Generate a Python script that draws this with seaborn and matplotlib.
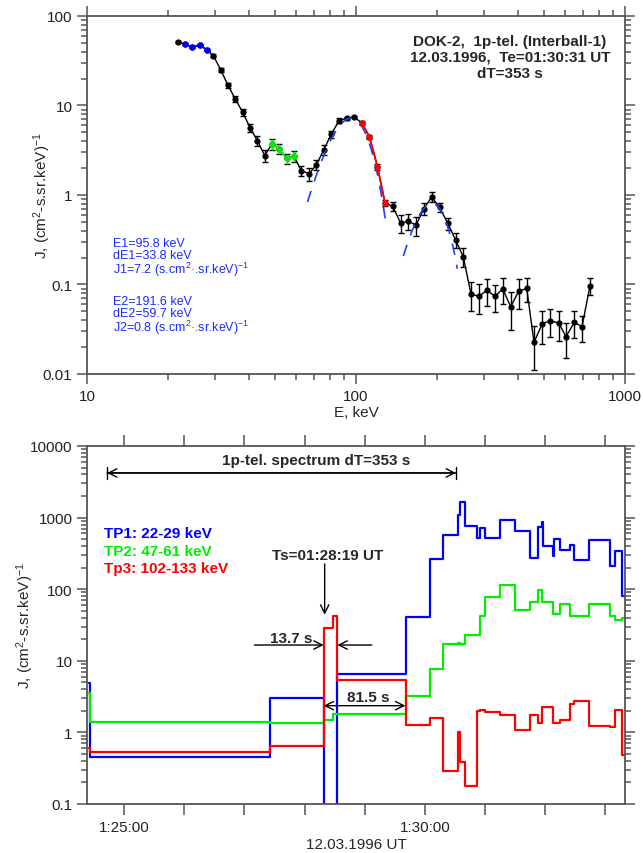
import numpy as np
import matplotlib
matplotlib.use('Agg')
import matplotlib.pyplot as plt
from matplotlib import font_manager
from matplotlib.ticker import LogLocator, MultipleLocator, FuncFormatter, NullFormatter, NullLocator
import seaborn as sns

# --- energy spectrum, DOK-2 1p-telescope ---
energy = [21.7, 23.1, 24.6, 26.2, 27.9, 29.5, 31.4, 33.4, 35.6, 37.9, 40.4, 43.0, 45.8,
          48.7, 51.9, 55.3, 58.8, 62.6, 66.9, 71.2, 75.9, 80.9, 86.5, 92.4, 98.3,
          105.3, 112.2, 120.2, 128.2, 136.9, 146.6, 156.7, 167.1, 178.9, 191.1, 204.4,
          219.3, 234.8, 250.5, 267.6, 285.8, 306.9, 328.7, 351.1, 376.0, 402.6, 431.1,
          458.9, 492.7, 527.7, 567.0, 603.6, 647.9, 692.1, 741.3]
flux = [51.6, 48.7, 44.7, 47.4, 42.0, 36.0, 25.1, 16.9, 11.8, 8.39, 5.65, 4.04, 2.75,
        3.74, 3.27, 2.57, 2.71, 1.87, 1.73, 2.16, 3.21, 4.77, 6.77, 7.19, 7.44,
        6.37, 4.47, 2.07, 0.814, 0.744, 0.484, 0.512, 0.459, 0.703, 0.950, 0.729,
        0.483, 0.313, 0.204, 0.0783, 0.0738, 0.0861, 0.0738, 0.0891, 0.0565, 0.0839,
        0.0906, 0.0226, 0.0365, 0.0394, 0.0371, 0.0261, 0.0378, 0.0338, 0.0970]
rel_err = [0.03, 0.03, 0.03, 0.03, 0.03, 0.04, 0.05, 0.06, 0.08, 0.10, 0.10, 0.12, 0.15,
           0.14, 0.13, 0.13, 0.13, 0.13, 0.17, 0.13, 0.12, 0.10, 0.06, 0.04, 0.03,
           0.04, 0.06, 0.08, 0.08, 0.11, 0.23, 0.21, 0.24, 0.15, 0.13, 0.12,
           0.16, 0.19, 0.24, 0.36, 0.37, 0.34, 0.34, 0.32, 0.45, 0.37,
           0.29, 0.51, 0.40, 0.35, 0.37, 0.42, 0.33, 0.33, 0.21]

# channels of the time profiles
band_names = ['TP1', 'TP2', 'Tp3']
band_lo = [22, 47, 102]
band_hi = [29, 61, 133]
band_colors = ['#0000ff', '#00ee00', '#ff0000']

# gaussian fits of the two peaks
peak_E = [95.8, 191.6]
peak_dE = [33.8, 59.7]
peak_J = [7.2, 0.8]
fit_lo = [66, 150]
fit_hi = [129, 238]

# --- time profiles, seconds after 01:25:00 (bin edges) ---
t_edges = [-35, -34, 145, 199, 208.5, 212.7, 281, 305, 318.5, 333, 335, 339.5, 352,
           354.5, 360, 374.5, 390, 405, 413, 416.5, 418, 427.5, 429, 435, 444.5,
           448.5, 463.5, 485, 490, 497, 500]
tp1 = [4.9, 0.45, 2.99, 0.05, 0.05, 6.55, 40.5, 264, 571, 1087, 1636, 755, 514, 708,
       520, 925, 650, 270, 731, 859, 405, 291, 503, 357, 414, 258, 487, 213, 345, 80]
tp2 = [3.6, 1.41, 1.37, 1.50, 1.81, 1.81, 3.19, 7.67, 17.0, 17.6, 17.0, 23.2, 23.2,
       42.7, 77.1, 114.6, 51.8, 65.6, 98.5, 65.6, 65.6, 45.1, 45.1, 62.7, 41.9, 41.9,
       62.7, 42.7, 37.5, 39.0]
tp3 = [0.60, 0.53, 0.64, 29.0, 42.7, 5.44, 1.27, 1.57, 0.29, 1.02, 0.39, 0.18, 2.01,
       2.08, 1.91, 1.77, 1.09, 1.77, 1.35, 2.24, 2.24, 1.35, 1.35, 1.50, 2.50, 2.72,
       1.24, 1.18, 2.07, 0.49]

Ts = 199          # 01:28:19
Te = 331          # 01:30:31
spec_start = -17

sns.set_style('ticks')
names = {f.name for f in font_manager.fontManager.ttflist}
font = 'Liberation Sans' if 'Liberation Sans' in names else 'DejaVu Sans'
plt.rcParams['font.family'] = [font, 'DejaVu Sans']
plt.rcParams['mathtext.fontset'] = 'custom'
plt.rcParams['mathtext.rm'] = font
plt.rcParams['mathtext.it'] = font + ':italic'
plt.rcParams['mathtext.bf'] = font + ':bold'

fig = plt.figure(figsize=(6.43, 8.54), dpi=100)
ax1 = fig.add_axes([0.1353, 0.5609, 0.8367, 0.4192])
ax2 = fig.add_axes([0.1353, 0.0574, 0.8367, 0.4192])

grey = '#555555'
logfmt = FuncFormatter(lambda v, p: f'{v:g}')


def style(ax):
    for s in ax.spines.values():
        s.set_color(grey)
        s.set_linewidth(1.3)
    ax.tick_params(which='both', direction='out', top=True, right=True, color=grey,
                   width=1.1, labelsize=11, labelcolor='#222222')
    ax.tick_params(which='major', length=7)
    ax.tick_params(which='minor', length=4)


# ---------------- spectrum ----------------
energy_a = np.array(energy)
flux_a = np.array(flux)
sigma = flux_a * np.array(rel_err)

sns.lineplot(x=energy, y=flux, color='black', lw=1, marker='o', markersize=4.5,
             markeredgewidth=0, estimator=None, sort=False, legend=False, ax=ax1)
ax1.errorbar(energy_a, flux_a, yerr=sigma, fmt='none', ecolor='black', elinewidth=1,
             capsize=2.2, capthick=1)
for lo, hi, c in zip(band_lo, band_hi, band_colors):
    m = (energy_a >= lo) & (energy_a <= hi)
    ax1.errorbar(energy_a[m], flux_a[m], yerr=sigma[m], fmt='o-', color=c, ms=4.5,
                 mew=0, lw=1.3, elinewidth=1, capsize=2.2, capthick=1)

for E0, dE, J0, lo, hi in zip(peak_E, peak_dE, peak_J, fit_lo, fit_hi):
    e = np.geomspace(lo, hi, 200)
    ax1.plot(e, J0 * np.exp(-4 * np.log(2) * (e - E0) ** 2 / dE ** 2),
             color='#1f3fff', lw=1.2, dashes=(7, 6))

ax1.set_xscale('log')
ax1.set_yscale('log')
ax1.set_xlim(10, 1000)
ax1.set_ylim(0.01, 100)
ax1.xaxis.set_major_formatter(logfmt)
ax1.yaxis.set_major_formatter(logfmt)
ax1.xaxis.set_minor_formatter(NullFormatter())
ax1.yaxis.set_minor_locator(LogLocator(base=10, subs=np.arange(2, 10), numticks=20))
ax1.yaxis.set_minor_formatter(NullFormatter())
style(ax1)
ax1.set_xlabel('E, keV', fontsize=11, labelpad=2)
ax1.set_ylabel('J, (cm$^2$-s.sr.keV)$^{-1}$', fontsize=11)
ax1.yaxis.set_label_coords(-0.063, 0.5)

hdr = ['DOK-2,  1p-tel. (Interball-1)', '12.03.1996,  Te=01:30:31 UT', 'dT=353 s']
for txt, y in zip(hdr, [0.918, 0.875, 0.830]):
    ax1.text(0.786, y, txt, transform=ax1.transAxes, ha='center', va='baseline',
             fontsize=11, fontweight='bold')

fit_txt = ['E1=95.8 keV', 'dE1=33.8 keV', 'J1=7.2 (s.cm$^{2}$·.sr.keV)$^{-1}$',
           'E2=191.6 keV', 'dE2=59.7 keV', 'J2=0.8 (s.cm$^{2}$·.sr.keV)$^{-1}$']
for txt, y in zip(fit_txt, [0.358, 0.324, 0.282, 0.1955, 0.161, 0.119]):
    ax1.text(0.048, y, txt, transform=ax1.transAxes, ha='left', va='baseline',
             fontsize=9, color='#1a2cff')

# ---------------- time profiles ----------------
for vals, c in zip([tp1, tp2, tp3], band_colors):
    sns.lineplot(x=t_edges, y=vals + [vals[-1]], drawstyle='steps-post', color=c,
                 lw=1.6, estimator=None, sort=False, legend=False, ax=ax2)

ax2.set_yscale('log')
ax2.set_ylim(0.1, 10000)
ax2.set_xlim(-37, 499.5)
ax2.xaxis.set_major_locator(MultipleLocator(60))
ax2.xaxis.set_minor_locator(NullLocator())
tick_lab = {0: '1:25:00', 300: '1:30:00'}
ax2.xaxis.set_major_formatter(FuncFormatter(lambda v, p: tick_lab.get(int(round(v)), '')))
ax2.yaxis.set_major_formatter(logfmt)
ax2.yaxis.set_minor_locator(LogLocator(base=10, subs=np.arange(2, 10), numticks=20))
ax2.yaxis.set_minor_formatter(NullFormatter())
style(ax2)
ax2.tick_params(axis='x', which='major', length=8)
ax2.set_xlabel('12.03.1996 UT', fontsize=11, labelpad=2)
ax2.set_ylabel('J, (cm$^2$-s.sr.keV)$^{-1}$', fontsize=11)
ax2.yaxis.set_label_coords(-0.095, 0.5)

for i, (nm, lo, hi, c) in enumerate(zip(band_names, band_lo, band_hi, band_colors)):
    ax2.text(0.0316, 0.745 - i * 0.049, f'{nm}: {lo}-{hi} keV', transform=ax2.transAxes,
             ha='left', va='baseline', fontsize=11, fontweight='bold', color=c)

# dT bracket of the spectrum
y_arr = 4200
ax2.annotate('', xy=(spec_start, y_arr), xytext=(Te, y_arr),
             arrowprops=dict(arrowstyle='<->,head_length=0.6,head_width=0.3', color='black', lw=1, shrinkA=0, shrinkB=0))
ax2.annotate('', xy=(spec_start, y_arr), xytext=(Te, y_arr),
             arrowprops=dict(arrowstyle='|-|,widthA=0.45,widthB=0.45', color='black', lw=1, shrinkA=0, shrinkB=0))
ax2.text(0.4257, 0.949, '1p-tel. spectrum dT=353 s', transform=ax2.transAxes,
         ha='center', va='baseline', fontsize=11, fontweight='bold')

# Ts marker
ax2.annotate('', xy=(Ts + 1, 44), xytext=(Ts + 1, 225),
             arrowprops=dict(arrowstyle='->,head_length=0.6,head_width=0.3', color='black', lw=1, shrinkA=0, shrinkB=0))
ax2.text(0.447, 0.684, 'Ts=01:28:19 UT', transform=ax2.transAxes, ha='center',
         va='baseline', fontsize=11, fontweight='bold')

# 13.7 s
y13 = 16.6
ax2.annotate('', xy=(Ts, y13), xytext=(130, y13),
             arrowprops=dict(arrowstyle='->,head_length=0.6,head_width=0.3', color='black', lw=1, shrinkA=0, shrinkB=0))
ax2.annotate('', xy=(Ts + 13.7, y13), xytext=(247, y13),
             arrowprops=dict(arrowstyle='->,head_length=0.6,head_width=0.3', color='black', lw=1, shrinkA=0, shrinkB=0))
ax2.text(0.3788, 0.4516, '13.7 s', transform=ax2.transAxes, ha='center', va='baseline',
         fontsize=11, fontweight='bold')

# 81.5 s
y81 = 2.36
ax2.annotate('', xy=(Ts, y81), xytext=(Ts + 81.5, y81),
             arrowprops=dict(arrowstyle='<->,head_length=0.6,head_width=0.3', color='black', lw=1, shrinkA=0, shrinkB=0))
ax2.text(0.5223, 0.2886, '81.5 s', transform=ax2.transAxes, ha='center', va='baseline',
         fontsize=11, fontweight='bold')

fig.savefig('out.png', dpi=100)
